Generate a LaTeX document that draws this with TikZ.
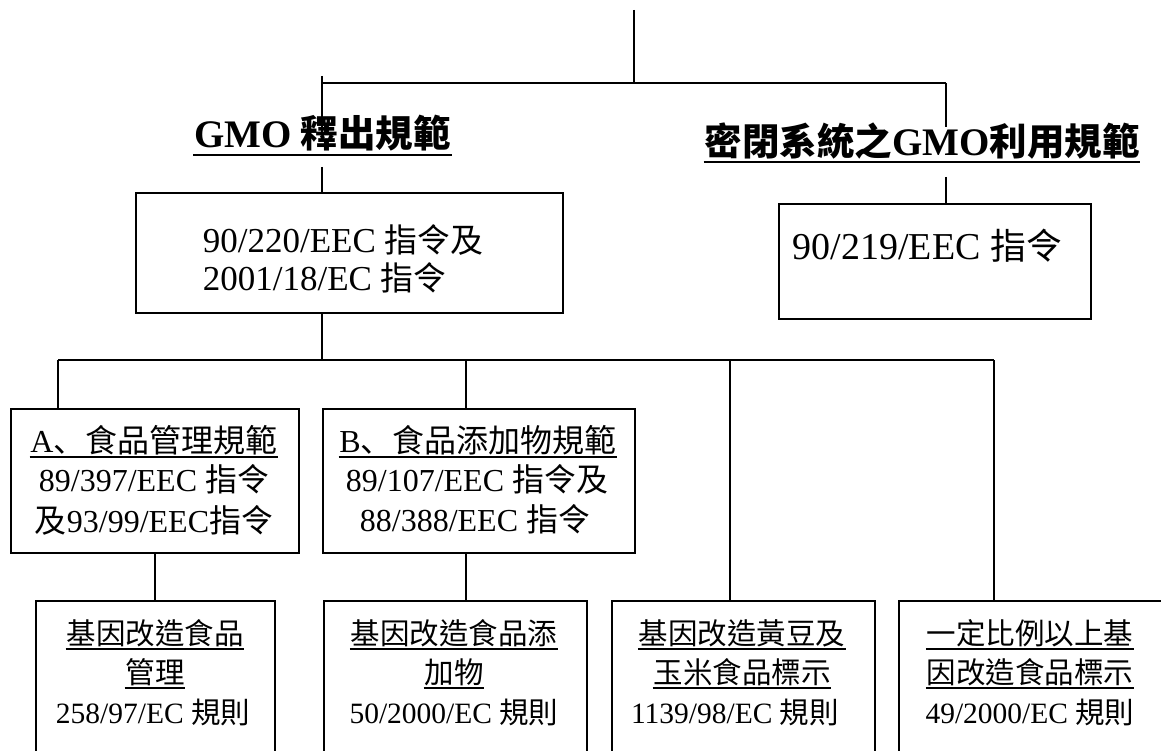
\documentclass[tikz,border=0pt]{standalone}
\usepackage{fontspec}
\setmainfont{Liberation Serif}
\newfontfamily\cjk{Noto Sans CJK TC}
\newfontfamily\cjksc{Noto Sans CJK SC}
\newcommand\zh[1]{{\cjk #1}}
\newcommand\zhs[2]{{\fontsize{#1}{#1}\selectfont\cjk #2}}
\newcommand\dunhao{{\cjksc 、}}
\newcommand\undl[2][5]{\draw[line width=1.5pt] ([yshift=-#1pt]#2.base west) -- ([yshift=-#1pt]#2.base east);}
\begin{document}
\begin{tikzpicture}[x=1pt,y=-1pt,line width=1.6pt,
  box/.style={draw,line width=1.6pt,inner sep=0pt,anchor=north west},
  txt/.style={inner sep=0pt,anchor=base},
  txtl/.style={inner sep=0pt,anchor=base west},
  ftitle/.style={font=\fontsize{37.5}{44}\selectfont\bfseries},
  ftop/.style={font=\fontsize{35}{42}\selectfont},
  ftopr/.style={font=\fontsize{38}{46}\selectfont},
  fmid/.style={font=\fontsize{32}{38}\selectfont},
  fbot/.style={font=\fontsize{29.5}{35}\selectfont}]
\useasboundingbox (0,0) rectangle (1161,751);
\clip (0,0) rectangle (1161,751);

% boxes
\node[box,minimum width=427pt,minimum height=120pt] (t1) at (135,192) {};
\node[box,minimum width=312pt,minimum height=115pt] (t2) at (778,203) {};
\node[box,minimum width=288pt,minimum height=144pt] (A) at (10,408) {};
\node[box,minimum width=312pt,minimum height=144pt] (B) at (322,408) {};
\node[box,minimum width=239pt,minimum height=180pt] (b1) at (35,600) {};
\node[box,minimum width=263pt,minimum height=180pt] (b2) at (323,600) {};
\node[box,minimum width=263pt,minimum height=180pt] (b3) at (611,600) {};
\node[box,minimum width=267pt,minimum height=180pt] (b4) at (898,600) {};

% coordinates
\coordinate (top) at (634,10);
\coordinate (j1) at (634,83);
\coordinate (jl) at (322,83);
\coordinate (jr) at (946,83);
\coordinate (lt1) at (322,76);
\coordinate (lt2) at (322,132);
\coordinate (rt2) at (946,127);
\coordinate (lt3) at (322,167);
\coordinate (rt3) at (946,177);
\coordinate (bus) at (322,360);
\coordinate (busL) at (58,360);
\coordinate (busR) at (994,360);
\coordinate (busB) at (466,360);
\coordinate (bus3) at (730,360);
\coordinate (bB) at (466,552);

% connectors
\draw (top) -- (j1);
\draw (jl) -- (jr);
\draw (lt1) -- (lt2);
\draw (jr) -- (rt2);
\draw (lt3) -- (lt3 |- t1.north);
\draw (rt3) -- (rt3 |- t2.north);
\draw (lt3 |- t1.south) -- (bus);
\draw (busL) -- (busR);
\draw (busL) -- (busL |- A.north);
\draw (busB) -- (busB |- B.north);
\draw (bus3) -- (bus3 |- b3.north);
\draw (busR) -- (busR |- b4.north);
\draw (A.south) -- (A.south |- b1.north);
\draw (bB) -- (bB |- b2.north);

% titles
\node[txt,ftitle] (ti1) at (322.5,148) {{\fontsize{39}{44}\selectfont GMO} {\cjk 釋出規範}};
\draw[line width=2.4pt] ([yshift=-7pt]ti1.base west) -- ([yshift=-7pt]ti1.base east);
\node[txt,ftitle] (ti2) at (922,156) {{\cjk 密閉系統之}{\fontsize{39}{44}\selectfont GMO}{\cjk 利用規範}};
\draw[line width=2.4pt] ([yshift=-6pt]ti2.base west) -- ([yshift=-6pt]ti2.base east);

% top boxes text
\node[txtl,ftop] (t1a) at (202,253) {90/220/EEC \zhs{33}{指令及}};
\node[txtl,ftop] (t1b) at (202,290) {2001/18/EC \zhs{33}{指令}};
\node[txtl,ftopr] (t2a) at (792,260) {90/219/EEC \zhs{36}{指令}};

% box A
\node[txt,fmid] (Aa) at (154,452) {A\dunhao\zh{食品管理規範}};
\undl{Aa}
\node[txt,fmid] (Ab) at (154,491) {89/397/EEC \zh{指令}};
\node[txt,fmid] (Ac) at (154,532) {\zh{及}93/99/EEC\zh{指令}};

% box B
\node[txt,fmid] (Ba) at (478,452) {B\dunhao\zh{食品添加物規範}};
\undl{Ba}
\node[txt,fmid] (Bb) at (477,491.5) {89/107/EEC \zh{指令及}};
\node[txt,fmid] (Bc) at (475,531.5) {88/388/EEC \zh{指令}};

% bottom boxes
\node[txt,fbot] (b1a) at (155,644.5) {\zh{基因改造食品}};
\undl[4.5]{b1a}
\node[txt,fbot] (b1b) at (155,683.5) {\zh{管理}};
\undl[4.5]{b1b}
\node[txt,fbot] (b1c) at (153,723) {258/97/EC \zh{規則}};

\node[txt,fbot] (b2a) at (454,644.5) {\zh{基因改造食品添}};
\undl[4.5]{b2a}
\node[txt,fbot] (b2b) at (454,683.5) {\zh{加物}};
\undl[4.5]{b2b}
\node[txt,fbot] (b2c) at (454,723) {50/2000/EC \zh{規則}};

\node[txt,fbot] (b3a) at (742,644.5) {\zh{基因改造黃豆及}};
\undl[4.5]{b3a}
\node[txt,fbot] (b3b) at (742,683.5) {\zh{玉米食品標示}};
\undl[4.5]{b3b}
\node[txt,fbot] (b3c) at (735,723) {1139/98/EC \zh{規則}};

\node[txt,fbot] (b4a) at (1030,644.5) {\zh{一定比例以上基}};
\undl[4.5]{b4a}
\node[txt,fbot] (b4b) at (1030,683.5) {\zh{因改造食品標示}};
\undl[4.5]{b4b}
\node[txt,fbot] (b4c) at (1030,723) {49/2000/EC \zh{規則}};
\end{tikzpicture}
\end{document}
